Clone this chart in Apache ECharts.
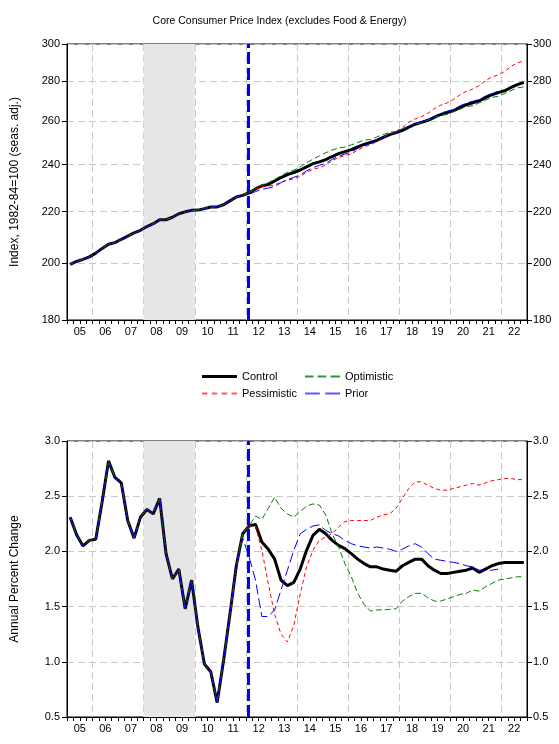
<!DOCTYPE html>
<html>
<head>
<meta charset="utf-8">
<script src="https://cdn.jsdelivr.net/npm/echarts@6.0.0/dist/echarts.min.js"></script>
<style>
  html, body { margin: 0; padding: 0; background: #fff; }
  #chart-container { width: 559px; height: 744px; }
</style>
</head>
<body>
<div id="chart-container"></div>
<script>
// year labels on the x axis (2005 .. 2022)
const years = ["05", "06", "07", "08", "09", "10", "11", "12", "13", "14",
  "15", "16", "17", "18", "19", "20", "21", "22"];
const quarters = years.flatMap((y) => [y + "Q1", y + "Q2", y + "Q3", y + "Q4"]);

// y tick labels
const indexTicks = [180, 200, 220, 240, 260, 280, 300];
const pctTicks = [0.5, 1.0, 1.5, 2.0, 2.5, 3.0];

// recession shading and start of forecast (in years)
const recessionSpan = [2008.0, 2010.0];
const forecastStart = 2012.1;

// Core CPI index, history 2005Q1 .. 2012Q1
const histIdx = [199.5, 200.6, 201.4, 202.3, 203.7, 205.5, 207.1, 207.7, 209.0, 210.2,
  211.5, 212.5, 214.0, 215.1, 216.7, 216.7, 217.7, 219.1, 219.9, 220.5, 220.6, 221.2,
  221.9, 221.9, 222.8, 224.4, 226.0, 226.7, 227.8];
// forecasts 2012Q2 .. 2022Q4
const controlIdx = [229.4, 230.7, 231.3, 232.8, 234.3, 235.6, 236.5, 237.6, 239.0, 240.4,
  241.2, 242.2, 243.6, 244.9, 245.8, 246.7, 248.0, 249.1, 250.0, 251.0, 252.4, 253.7,
  254.6, 255.7, 257.2, 258.6, 259.5, 260.5, 261.9, 263.3, 264.2, 265.2, 266.7, 268.1,
  269.1, 270.0, 271.6, 273.1, 274.2, 275.1, 276.8, 278.3, 279.4];
const pessIdx = [229.4, 230.5, 230.6, 231.1, 232.3, 233.2, 233.7, 234.8, 236.6, 237.9,
  238.6, 239.8, 241.7, 243.2, 244.0, 244.8, 246.5, 248.0, 249.0, 250.4, 252.4, 254.0,
  255.3, 257.0, 259.5, 261.2, 262.3, 263.9, 266.2, 267.9, 269.0, 270.7, 273.1, 274.9,
  276.0, 277.7, 280.3, 282.2, 283.3, 285.1, 287.8, 289.7, 290.8];
const optIdx = [229.6, 231.2, 232.1, 233.5, 235.1, 236.6, 237.5, 239.0, 240.8, 242.4,
  243.9, 245.3, 246.5, 247.5, 247.9, 248.9, 250.0, 251.1, 251.4, 252.6, 253.7, 254.8,
  255.1, 256.5, 257.7, 258.9, 259.2, 260.6, 261.7, 262.9, 263.3, 264.7, 265.9, 267.2,
  267.6, 269.0, 270.4, 271.8, 272.3, 273.7, 275.2, 276.6, 277.1];
// prior forecast 2011Q4 .. 2021Q4
const priorIdx = [226.6, 227.1, 228.3, 229.2, 229.8, 230.4, 232.1, 233.4, 234.4, 235.4,
  237.2, 238.6, 239.7, 240.6, 242.3, 243.7, 244.7, 245.6, 247.3, 248.7, 249.7, 250.6,
  252.3, 253.7, 254.7, 255.7, 257.5, 259.0, 259.9, 260.8, 262.5, 264.0, 264.9, 265.8,
  267.5, 268.9, 269.8, 270.7, 272.4, 273.8, 274.8];

// annual percent change, history 2005Q1 .. 2012Q1
const histPct = [2.31, 2.15, 2.05, 2.10, 2.11, 2.45, 2.82, 2.67, 2.62, 2.28, 2.12, 2.31,
  2.38, 2.34, 2.48, 1.98, 1.75, 1.84, 1.48, 1.74, 1.31, 0.98, 0.91, 0.63, 1.01, 1.43,
  1.87, 2.16, 2.23];
const controlPct = [2.245, 2.085, 2.02, 1.93, 1.74, 1.69, 1.72, 1.84, 2.01, 2.145, 2.20,
  2.16, 2.10, 2.055, 2.025, 1.98, 1.93, 1.89, 1.86, 1.86, 1.84, 1.83, 1.82, 1.87, 1.90,
  1.93, 1.93, 1.87, 1.83, 1.80, 1.80, 1.81, 1.82, 1.83, 1.85, 1.81, 1.84, 1.87, 1.89,
  1.90, 1.90, 1.90, 1.90];
const pessPct = [2.23, 2.01, 1.71, 1.43, 1.25, 1.18, 1.33, 1.615, 1.86, 2.01, 2.10, 2.13,
  2.16, 2.22, 2.27, 2.28, 2.28, 2.28, 2.28, 2.31, 2.33, 2.34, 2.39, 2.48, 2.57, 2.63,
  2.63, 2.60, 2.57, 2.555, 2.555, 2.57, 2.585, 2.60, 2.615, 2.60, 2.62, 2.64, 2.65,
  2.66, 2.66, 2.65, 2.65];
const optPct = [2.32, 2.29, 2.39, 2.49, 2.39, 2.34, 2.31, 2.36, 2.41, 2.43, 2.42, 2.33,
  2.16, 2.04, 1.89, 1.77, 1.62, 1.52, 1.46, 1.47, 1.47, 1.475, 1.48, 1.55, 1.59, 1.62,
  1.62, 1.58, 1.55, 1.55, 1.57, 1.59, 1.61, 1.62, 1.65, 1.64, 1.68, 1.71, 1.74, 1.75,
  1.76, 1.77, 1.77];
const priorPct = [2.12, 1.95, 1.74, 1.41, 1.41, 1.47, 1.65, 1.83, 2.01, 2.16, 2.20, 2.23,
  2.24, 2.19, 2.16, 2.14, 2.10, 2.07, 2.05, 2.04, 2.03, 2.04, 2.03, 2.02, 2.00, 2.02,
  2.05, 2.07, 2.04, 1.98, 1.93, 1.92, 1.91, 1.90, 1.89, 1.87, 1.86, 1.83, 1.83, 1.83,
  1.84];

const FONT = "Liberation Sans";
const gridLine = { show: true, lineStyle: { color: "#c8c8c8", width: 1, type: [7, 4] } };
const black = { color: "#000", width: 1 };

const styles = {
  Control: { color: "#000000", width: 3, type: "solid" },
  Pessimistic: { color: "#ff0000", width: 1, type: [4, 3] },
  Optimistic: { color: "#008000", width: 1, type: [6, 3] },
  Prior: { color: "#0000ff", width: 1, type: [10, 4] },
};

// legend swatches drawn as small paths (dash patterns of each line)
const legendIcons = {
  Control: { h: 3, color: "#000000", path: "path://M0,0H35V3H0Z" },
  Pessimistic: { h: 2, color: "#ff5a5a", path: "path://M0,0h5v1h-5zM9,0h5v1h-5zM18,0h5v1h-5zM27,0h5v1h-5z" },
  Optimistic: { h: 2, color: "#2a9a2a", path: "path://M0,0h8v1h-8zM12,0h8v1h-8zM24,0h9v1h-9z" },
  Prior: { h: 2, color: "#5a5aff", path: "path://M0,0h14v1h-14zM19,0h14v1h-14z" },
};

const dom = document.getElementById("chart-container");
const myChart = echarts.init(dom, null, { renderer: "canvas" });

function xAxesFor(grid) {
  return [
    {
      type: "category", gridIndex: grid, position: "bottom", data: years,
      boundaryGap: true,
      axisLine: { show: true, onZero: false, lineStyle: black },
      axisTick: { show: false },
      axisLabel: { show: true, interval: 0, margin: 6, fontSize: 11, color: "#000", fontFamily: FONT },
      splitLine: { show: true, interval: (i) => i % 2 === 1, lineStyle: gridLine.lineStyle },
    },
    {
      type: "category", gridIndex: grid, position: "bottom", data: quarters,
      boundaryGap: true,
      axisLine: { show: false, onZero: false },
      axisTick: { show: true, interval: 0, length: 4, lineStyle: black },
      axisLabel: { show: false },
      splitLine: { show: false },
    },
    {
      type: "value", gridIndex: grid, position: "bottom", min: 2005, max: 2023, show: false,
    },
  ];
}

function yAxesFor(grid, cfg) {
  const label = { fontSize: 11, color: "#000", fontFamily: FONT, formatter: cfg.fmt };
  const base = {
    type: "value", gridIndex: grid, min: cfg.min, max: cfg.max,
    axisLine: { show: true, lineStyle: black },
  };
  if (cfg.custom) {
    base.axisTick = { show: true, length: 5, lineStyle: black, customValues: cfg.custom };
    label.customValues = cfg.custom;
  } else {
    base.interval = cfg.interval;
    base.axisTick = { show: true, length: 5, lineStyle: black };
  }
  return [
    Object.assign({}, base, {
      position: "left",
      name: cfg.name, nameLocation: "middle", nameGap: 46,
      nameTextStyle: { fontSize: 12, color: "#000", fontFamily: FONT },
      axisLabel: Object.assign({ margin: 7 }, label),
      splitLine: gridLine,
    }),
    Object.assign({}, base, {
      position: "right",
      axisLabel: Object.assign({ margin: 6 }, label),
      splitLine: { show: false },
    }),
  ];
}

function seriesFor(grid, hist, ctrl, pess, opt, prior, tf) {
  const xq = grid * 3 + 1;
  const yi = grid * 2;
  const mk = (name, data) => ({
    name, type: "line", xAxisIndex: xq, yAxisIndex: yi, data: data.map(tf),
    symbol: "none", smooth: false, lineStyle: styles[name], itemStyle: { color: styles[name].color },
    silent: true, z: name === "Control" ? 3 : 4,
  });
  return [
    {
      type: "line", xAxisIndex: grid * 3 + 2, yAxisIndex: yi, data: [], silent: true, z: 1,
      markArea: {
        silent: true,
        itemStyle: { color: "#e6e6e6" },
        data: [[{ xAxis: recessionSpan[0] }, { xAxis: recessionSpan[1] }]],
      },
      markLine: {
        silent: true, symbol: "none", label: { show: false },
        lineStyle: { color: "#0000ff", width: 3, type: [12, 4] },
        data: [{ xAxis: forecastStart }],
      },
    },
    mk("Control", hist.concat(ctrl)),
    mk("Pessimistic", hist.concat(pess)),
    mk("Optimistic", hist.concat(opt)),
    mk("Prior", hist.slice(0, 27).concat(prior)),
  ];
}

function legendFor(name, left, top) {
  const ic = legendIcons[name];
  return {
    left, top, padding: 0, itemWidth: 35, itemHeight: ic.h, itemGap: 0,
    icon: ic.path, symbolKeepAspect: false,
    itemStyle: { color: ic.color, borderWidth: 0 },
    textStyle: { fontSize: 11, color: "#000", fontFamily: FONT },
    selectedMode: false,
    data: [name],
  };
}

const option = {
  backgroundColor: "#ffffff",
  animation: false,
  title: {
    text: "Core Consumer Price Index (excludes Food & Energy)",
    left: "center", top: 11,
    textStyle: { fontSize: 10.5, fontWeight: "normal", color: "#000", fontFamily: FONT },
  },
  legend: [
    legendFor("Control", 202, 371),
    legendFor("Pessimistic", 202, 388),
    legendFor("Optimistic", 305, 371),
    legendFor("Prior", 305, 388),
  ],
  grid: [
    { left: 67, right: 32, top: 44, height: 276, show: true, borderColor: "#000", borderWidth: 1 },
    { left: 67, right: 32, top: 441, height: 276, show: true, borderColor: "#000", borderWidth: 1 },
  ],
  xAxis: xAxesFor(0).concat(xAxesFor(1)),
  yAxis: yAxesFor(0, {
    min: Math.log(180), max: Math.log(300),
    custom: indexTicks.map((v) => Math.log(v)),
    fmt: (v) => String(Math.round(Math.exp(v))),
    name: "Index, 1982-84=100 (seas. adj.)",
  }).concat(yAxesFor(1, {
    min: 0.5, max: 3.0, interval: 0.5,
    fmt: (v) => v.toFixed(1),
    name: "Annual Percent Change",
  })),
  series: seriesFor(0, histIdx, controlIdx, pessIdx, optIdx, priorIdx, (v) => Math.log(v))
    .concat(seriesFor(1, histPct, controlPct, pessPct, optPct, priorPct, (v) => v)),
};

myChart.setOption(option);
window.addEventListener("resize", myChart.resize);
</script>
</body>
</html>
